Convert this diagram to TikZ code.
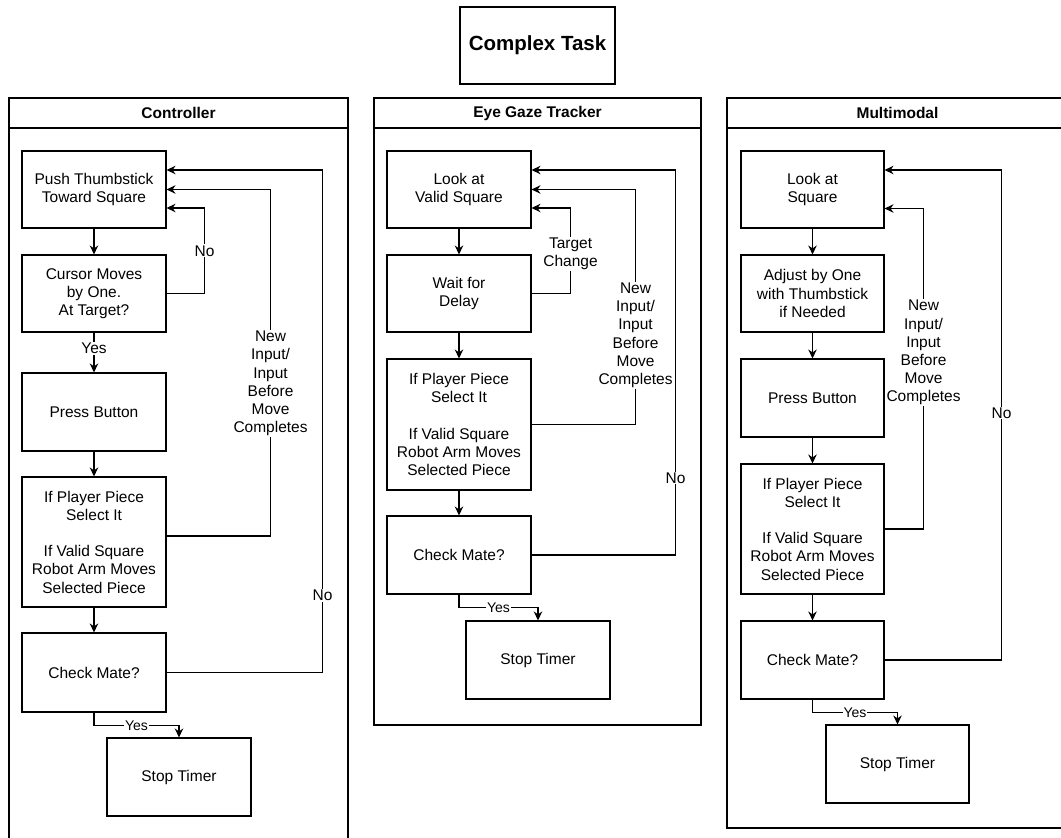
\documentclass[tikz,border=0pt]{standalone}
\usepackage{fontspec}
\setmainfont{Liberation Sans}
\usetikzlibrary{arrows.meta,calc}
\tikzset{
  ln/.style={line width=1.1pt, draw=black},
  box/.style={ln, rectangle, align=center, inner sep=2pt,
    font=\fontsize{15.5}{18.2}\selectfont},
  lanehead/.style={font=\bfseries\fontsize{15.5}{18.2}\selectfont},
  arr/.style={ln, -{Stealth[length=9pt,width=8.5pt,inset=3pt]}},
  lbl/.style={fill=white, inner sep=1pt, align=center,
    font=\fontsize{15.5}{18.2}\selectfont},
  lbly/.style={fill=white, inner sep=1pt,
    font=\fontsize{14}{16}\selectfont},
}
\begin{document}
\begin{tikzpicture}[x=1pt,y=-1pt]
\useasboundingbox (0,0) rectangle (1061,838);
\fill[white] (0,0) rectangle (1061,838);

% title
\node[box, minimum width=155, minimum height=77,
  font=\bfseries\fontsize{20.5}{24}\selectfont] (title) at (537.5,45.5) {Complex Task};

% lanes
\draw[ln] (9,838) -- (9,98) -- (348,98) -- (348,838);
\draw[ln] (9,128) -- (348,128);
\node[lanehead] (hc) at (178.5,113) {Controller};

\draw[ln] (374,98) rectangle (701,725);
\draw[ln] (374,128) -- (701,128);
\node[lanehead] (he) at (537.5,113) {Eye Gaze Tracker};

\draw[ln] (1062,98) -- (727,98) -- (727,828) -- (1062,828);
\draw[ln] (727,128) -- (1062,128);
\node[lanehead] (hm) at (897.5,113) {Multimodal};

% ---------- Controller ----------
\node[box, minimum width=144, minimum height=77] (c1) at (94,189.5) {Push Thumbstick\\Toward Square};
\node[box, minimum width=144, minimum height=77] (c2) at (94,293.5) {Cursor Moves\\by One.\\At Target?};
\node[box, minimum width=144, minimum height=78] (c3) at (94,412) {Press Button};
\node[box, minimum width=144, minimum height=130] (c4) at (94,542) {If Player Piece\\Select It\\[18.2pt]If Valid Square\\Robot Arm Moves\\Selected Piece};
\node[box, minimum width=144, minimum height=79] (c5) at (94,672.5) {Check Mate?};
\node[box, minimum width=144, minimum height=78] (c6) at (179,777) {Stop Timer};

\draw[arr] (c1) -- (c2);
\draw[arr] (c2) -- node[lbl, pos=0.4] {Yes} (c3);
\draw[arr] (c3) -- (c4);
\draw[arr] (c4) -- (c5);
\draw[arr] (c2.east) -| node[lbl, pos=0.75] {No} ($(c1.east)+(38,18.5)$) -- ($(c1.east)+(0,18.5)$);
\draw[arr] ($(c4.east)+(0,-6)$) -| node[lbl, pos=0.72] {New\\Input/\\Input\\Before\\Move\\Completes} ($(c1.east)+(104,0)$) -- (c1.east);
\draw[arr] (c5.east) -| node[lbl, pos=0.577] {No} ($(c1.east)+(156,-19.5)$) -- ($(c1.east)+(0,-19.5)$);
\draw[arr] (c5.south) -- ++(0,13) -| node[lbly, pos=0.25] {Yes} (c6.north);

% ---------- Eye Gaze Tracker ----------
\node[box, minimum width=144, minimum height=77] (e1) at (459,189.5) {Look at\\Valid Square};
\node[box, minimum width=144, minimum height=77] (e2) at (459,293.5) {Wait for\\Delay};
\node[box, minimum width=144, minimum height=131] (e3) at (459,424.5) {If Player Piece\\Select It\\[18.2pt]If Valid Square\\Robot Arm Moves\\Selected Piece};
\node[box, minimum width=144, minimum height=78] (e4) at (459,555) {Check Mate?};
\node[box, minimum width=144, minimum height=78] (e5) at (538,660) {Stop Timer};

\draw[arr] (e1) -- (e2);
\draw[arr] (e2) -- (e3);
\draw[arr] (e3) -- (e4);
\draw[arr] (e2.east) -| node[lbl, pos=0.731] {Target\\Change} ($(e1.east)+(39,18.5)$) -- ($(e1.east)+(0,18.5)$);
\draw[arr] (e3.east) -| node[lbl, pos=0.69] {New\\Input/\\Input\\Before\\Move\\Completes} ($(e1.east)+(104,0)$) -- (e1.east);
\draw[arr] (e4.east) -| node[lbl, pos=0.60] {No} ($(e1.east)+(144,-19.5)$) -- ($(e1.east)+(0,-19.5)$);
\draw[arr] (e4.south) -- ++(0,13) -| node[lbly, pos=0.25] {Yes} (e5.north);

% ---------- Multimodal ----------
\node[box, minimum width=143, minimum height=77] (m1) at (812.5,189.5) {Look at\\Square};
\node[box, minimum width=143, minimum height=77] (m2) at (812.5,293.5) {Adjust by One\\with Thumbstick\\if Needed};
\node[box, minimum width=143, minimum height=78] (m3) at (812.5,398) {Press Button};
\node[box, minimum width=143, minimum height=130] (m4) at (812.5,529) {If Player Piece\\Select It\\[18.2pt]If Valid Square\\Robot Arm Moves\\Selected Piece};
\node[box, minimum width=143, minimum height=78] (m5) at (812.5,660) {Check Mate?};
\node[box, minimum width=143, minimum height=78] (m6) at (897.5,764) {Stop Timer};

\draw[arr] (m1) -- (m2);
\draw[arr] (m2) -- (m3);
\draw[arr] (m3) -- (m4);
\draw[arr] (m4) -- (m5);
\draw[arr] (m4.east) -| node[lbl, pos=0.775] {New\\Input/\\Input\\Before\\Move\\Completes} ($(m1.east)+(39,19)$) -- ($(m1.east)+(0,19)$);
\draw[arr] (m5.east) -| node[lbl, pos=0.752] {No} ($(m1.east)+(117,-19.5)$) -- ($(m1.east)+(0,-19.5)$);
\draw[arr] (m5.south) -- ++(0,13) -| node[lbly, pos=0.25] {Yes} (m6.north);
\end{tikzpicture}
\end{document}
